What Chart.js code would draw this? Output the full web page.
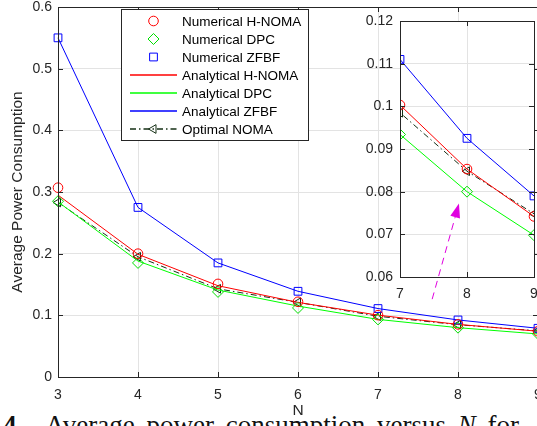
<!DOCTYPE html>
<html>
<head>
<meta charset="utf-8">
<script src="https://cdn.jsdelivr.net/npm/chart.js@4"></script>
<style>
html, body { margin: 0; padding: 0; background: #fff; overflow: hidden; width: 537px; height: 426px; }
#caption { position: absolute; left: 3px; top: 410px; font: 27px "Liberation Serif", serif; color: #111; white-space: nowrap; word-spacing: 5px; }
#wrap { position: absolute; left: 0; top: 0; width: 560px; height: 426px; }
#insetWrap { position: absolute; left: 358px; top: 2px; width: 200px; height: 300px; }
</style>
</head>
<body>
<div id="caption"><b>4.</b>&nbsp; Average power consumption versus <i>N</i> for</div>
<div id="wrap"><canvas id="main"></canvas></div>
<div id="insetWrap"><canvas id="inset"></canvas></div>
<script>
// values
const N = [3, 4, 5, 6, 7, 8, 9];
const numHNOMA = [0.307, 0.200, 0.151, 0.122, 0.1003, 0.0853, 0.0742];
const numDPC   = [0.285, 0.185, 0.138, 0.112, 0.0934, 0.0800, 0.0698];
const numZFBF  = [0.550, 0.275, 0.185, 0.139, 0.111, 0.0925, 0.0790];
const anaHNOMA = [0.295, 0.199, 0.148, 0.121, 0.1003, 0.0853, 0.0742];
const anaDPC   = [0.284, 0.188, 0.141, 0.115, 0.0934, 0.0800, 0.0698];
const anaZFBF  = [0.550, 0.275, 0.185, 0.139, 0.111, 0.0925, 0.0790];
const optNOMA  = [0.283, 0.195, 0.143, 0.121, 0.0985, 0.0848, 0.0748];

const mainYTicks = [0, 0.1, 0.2, 0.3, 0.4, 0.5, 0.6];
const insetYTicks = [0.06, 0.07, 0.08, 0.09, 0.1, 0.11, 0.12];

// arrow in inset data coords (tail, head)
const arrowFrom = {x: 7.48, y: 0.0548};
const arrowTo = {x: 7.88, y: 0.0772};

const axisColor = '#262626';
const gridColor = '#e3e3e3';
const optColor = '#163016';

function pts(arr) {
  return N.map((n, i) => ({x: n, y: arr[i]}));
}

function makeDatasets() {
  return [
    {label: 'Numerical H-NOMA', data: pts(numHNOMA), showLine: false, pointStyle: 'circle', pointRadius: 4.8, borderColor: '#ff0000', backgroundColor: 'rgba(0,0,0,0)', pointBorderWidth: 1},
    {label: 'Numerical DPC', data: pts(numDPC), showLine: false, pointStyle: 'rectRot', pointRadius: 5.5, borderColor: '#00e000', backgroundColor: 'rgba(0,0,0,0)', pointBorderWidth: 1},
    {label: 'Numerical ZFBF', data: pts(numZFBF), showLine: false, pointStyle: 'rect', pointRadius: 5.5, borderColor: '#0000ff', backgroundColor: 'rgba(0,0,0,0)', pointBorderWidth: 1},
    {label: 'Analytical H-NOMA', data: pts(anaHNOMA), pointRadius: 0, borderColor: '#ff0000', borderWidth: 1},
    {label: 'Analytical DPC', data: pts(anaDPC), pointRadius: 0, borderColor: '#00ff00', borderWidth: 1},
    {label: 'Analytical ZFBF', data: pts(anaZFBF), pointRadius: 0, borderColor: '#0000ff', borderWidth: 1},
    {label: 'Optimal NOMA', data: pts(optNOMA), pointStyle: 'triangle', pointRotation: 270, pointRadius: 5, borderColor: optColor, backgroundColor: 'rgba(0,0,0,0)', borderWidth: 1, borderDash: [6, 3, 1.5, 3], pointBorderWidth: 1}
  ];
}

function marker(ctx, style, x, y, r, color) {
  ctx.save();
  ctx.strokeStyle = color;
  ctx.lineWidth = 1;
  ctx.setLineDash([]);
  ctx.beginPath();
  if (style === 'circle') {
    ctx.arc(x, y, r, 0, Math.PI * 2);
  } else if (style === 'rectRot') {
    ctx.moveTo(x, y - r); ctx.lineTo(x + r, y); ctx.lineTo(x, y + r); ctx.lineTo(x - r, y); ctx.closePath();
  } else if (style === 'rect') {
    const s = r * Math.SQRT1_2;
    ctx.rect(x - s, y - s, 2 * s, 2 * s);
  } else if (style === 'triangle') {
    ctx.moveTo(x - r, y); ctx.lineTo(x + r * 0.5, y - r * 0.87); ctx.lineTo(x + r * 0.5, y + r * 0.87); ctx.closePath();
  }
  ctx.stroke();
  ctx.restore();
}

// white axes background + full box + inward ticks (matlab look)
function boxPlugin() {
  return {
    id: 'box',
    beforeDraw(chart) {
      const a = chart.chartArea, ctx = chart.ctx;
      ctx.save();
      ctx.fillStyle = '#fff';
      ctx.fillRect(a.left, a.top, a.right - a.left, a.bottom - a.top);
      ctx.restore();
    },
    afterDatasetsDraw(chart) {
      const a = chart.chartArea, ctx = chart.ctx;
      const xs = chart.scales.x, ys = chart.scales.y;
      ctx.save();
      ctx.strokeStyle = axisColor;
      ctx.lineWidth = 1;
      ctx.beginPath();
      xs.ticks.forEach(t => {
        const px = Math.round(xs.getPixelForValue(t.value)) + 0.5;
        ctx.moveTo(px, a.bottom); ctx.lineTo(px, a.bottom - 5);
        ctx.moveTo(px, a.top); ctx.lineTo(px, a.top + 5);
      });
      ys.ticks.forEach(t => {
        const py = Math.round(ys.getPixelForValue(t.value)) + 0.5;
        ctx.moveTo(a.left, py); ctx.lineTo(a.left + 5, py);
        ctx.moveTo(a.right, py); ctx.lineTo(a.right - 5, py);
      });
      ctx.stroke();
      ctx.beginPath();
      ctx.rect(Math.round(a.left) + 0.5, Math.round(a.top) + 0.5, Math.round(a.right - a.left), Math.round(a.bottom - a.top));
      ctx.stroke();
      ctx.restore();
    }
  };
}

const legendPlugin = {
  id: 'matlabLegend',
  afterDraw(chart) {
    const ctx = chart.ctx;
    const bx = 121, by = 9, bw = 187, bh = 131;
    ctx.save();
    ctx.fillStyle = '#fff';
    ctx.fillRect(bx, by, bw, bh);
    ctx.strokeStyle = axisColor;
    ctx.lineWidth = 1;
    ctx.strokeRect(bx + 0.5, by + 0.5, bw, bh);
    ctx.font = '13.5px "Liberation Sans", Arial, sans-serif';
    ctx.textBaseline = 'middle';
    chart.data.datasets.forEach((ds, i) => {
      const y = 21 + i * 18;
      const hasLine = ds.showLine !== false;
      if (hasLine) {
        ctx.save();
        ctx.strokeStyle = ds.borderColor;
        ctx.lineWidth = 1.4;
        ctx.setLineDash(ds.borderDash || []);
        ctx.beginPath();
        ctx.moveTo(130, y); ctx.lineTo(177, y);
        ctx.stroke();
        ctx.restore();
      }
      if (ds.pointRadius > 0) {
        marker(ctx, ds.pointStyle, 153.5, y, ds.pointRadius, ds.borderColor);
      }
      ctx.fillStyle = '#000';
      ctx.fillText(ds.label, 182, y + 1);
    });
    ctx.restore();
  }
};

const arrowPlugin = {
  id: 'arrow',
  afterDraw(chart) {
    const xs = chart.scales.x, ys = chart.scales.y, ctx = chart.ctx;
    const x0 = xs.getPixelForValue(arrowFrom.x), y0 = ys.getPixelForValue(arrowFrom.y);
    const x1 = xs.getPixelForValue(arrowTo.x), y1 = ys.getPixelForValue(arrowTo.y);
    const ang = Math.atan2(y1 - y0, x1 - x0);
    const hl = 14, hw = 5;
    const bxp = x1 - hl * Math.cos(ang), byp = y1 - hl * Math.sin(ang);
    ctx.save();
    ctx.strokeStyle = '#e000e0';
    ctx.fillStyle = '#e000e0';
    ctx.lineWidth = 1;
    ctx.setLineDash([7, 5]);
    ctx.beginPath();
    ctx.moveTo(x0, y0); ctx.lineTo(bxp, byp);
    ctx.stroke();
    ctx.setLineDash([]);
    ctx.beginPath();
    ctx.moveTo(x1, y1);
    ctx.lineTo(bxp + hw * Math.sin(ang), byp - hw * Math.cos(ang));
    ctx.lineTo(bxp - hw * Math.sin(ang), byp + hw * Math.cos(ang));
    ctx.closePath();
    ctx.fill();
    ctx.restore();
  }
};

const tickFont = {family: '"Liberation Sans", Arial, sans-serif', size: 14};

new Chart(document.getElementById('main'), {
  type: 'line',
  data: {datasets: makeDatasets()},
  options: {
    responsive: true,
    maintainAspectRatio: false,
    devicePixelRatio: 1,
    animation: false,
    clip: false,
    layout: {padding: {top: 7, right: 22, left: 0, bottom: 0}},
    plugins: {legend: {display: false}, tooltip: {enabled: false}},
    scales: {
      x: {
        type: 'linear', min: 3, max: 9,
        afterBuildTicks(s) { s.ticks = N.map(v => ({value: v})); },
        ticks: {color: axisColor, font: tickFont, padding: 10, maxRotation: 0, autoSkip: false},
        grid: {color: gridColor, drawTicks: false},
        border: {color: axisColor},
        title: {display: true, text: 'N', color: axisColor, font: {family: tickFont.family, size: 15.5}, padding: {top: 0, bottom: 6}},
        afterFit(s) { s.height = 49; s.paddingLeft = 0; s.paddingRight = 0; }
      },
      y: {
        min: 0, max: 0.6,
        afterBuildTicks(s) { s.ticks = mainYTicks.map(v => ({value: v})); },
        ticks: {color: axisColor, font: tickFont, padding: 6, autoSkip: false, callback: v => String(+v.toFixed(2))},
        grid: {color: gridColor, drawTicks: false},
        border: {color: axisColor},
        title: {display: true, text: 'Average Power Consumption', color: axisColor, font: {family: tickFont.family, size: 15.5}, padding: {top: 8, bottom: 0}},
        afterFit(s) { s.width = 58; s.paddingTop = 0; s.paddingBottom = 0; }
      }
    }
  },
  plugins: [boxPlugin(), legendPlugin]
});

new Chart(document.getElementById('inset'), {
  type: 'line',
  data: {datasets: makeDatasets()},
  options: {
    responsive: true,
    maintainAspectRatio: false,
    devicePixelRatio: 1,
    animation: false,
    layout: {padding: {top: 19, right: 24, left: 0, bottom: 0}},
    plugins: {legend: {display: false}, tooltip: {enabled: false}},
    scales: {
      x: {
        type: 'linear', min: 7, max: 9,
        afterBuildTicks(s) { s.ticks = [7, 8, 9].map(v => ({value: v})); },
        ticks: {color: axisColor, font: tickFont, padding: 9, maxRotation: 0, autoSkip: false},
        grid: {color: gridColor, drawTicks: false},
        border: {color: axisColor},
        afterFit(s) { s.height = 25; }
      },
      y: {
        min: 0.06, max: 0.12,
        afterBuildTicks(s) { s.ticks = insetYTicks.map(v => ({value: v})); },
        ticks: {color: axisColor, font: tickFont, padding: 7, autoSkip: false, callback: v => String(+v.toFixed(2))},
        grid: {color: gridColor, drawTicks: false},
        border: {color: axisColor},
        afterFit(s) { s.width = 42; }
      }
    }
  },
  plugins: [boxPlugin(), arrowPlugin]
});
</script>
</body>
</html>
